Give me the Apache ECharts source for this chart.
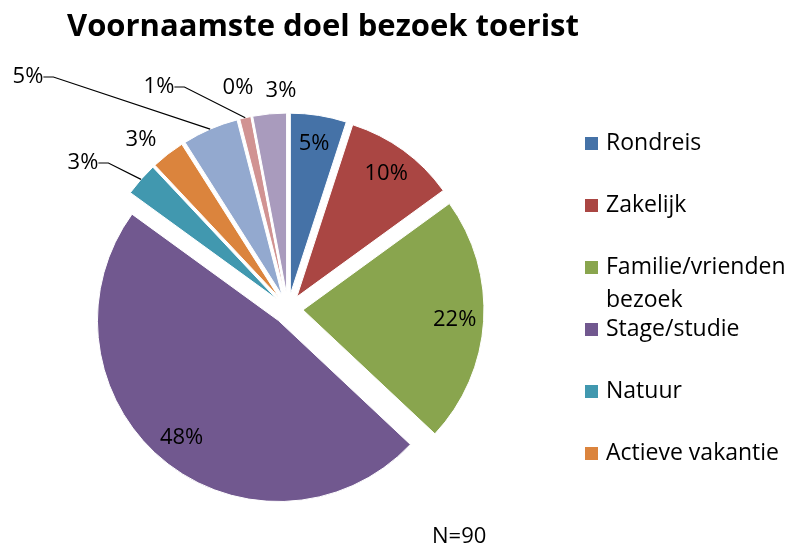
<!DOCTYPE html>
<html>
<head>
<meta charset="utf-8">
<script src="https://cdn.jsdelivr.net/npm/echarts@6/dist/echarts.min.js"></script>
<style>
  html, body { margin: 0; padding: 0; background: #fff; }
  #main { width: 790px; height: 546px; }
</style>
</head>
<body>
<div id="main"></div>
<script>
// data
const categories = ['Rondreis', 'Zakelijk', 'Familie/vrienden bezoek', 'Stage/studie', 'Natuur',
  'Actieve vakantie', 'Cultuur', 'Evenement', 'Winkelen', 'Anders'];
const percentages = [5, 10, 22, 48, 3, 3, 5, 1, 0, 3];
const legendNames = categories.slice(0, 6);
const colors = ['#4572A7', '#AA4643', '#89A54E', '#71588F', '#4198AF', '#DB843D',
  '#93A9CF', '#D19392', '#B9CD96', '#A99BBD'];

const font = '"Open Sans", sans-serif';
const insideCount = 4;           // big slices get their label inside
const withLine = [4, 6, 7];      // outside labels that get a leader line

// where Excel put the outside labels
const outsideLabelPos = {
  4: [83, 163], 5: [141, 140], 6: [28, 77], 7: [159, 87], 8: [238, 88], 9: [281, 91]
};

// the visible (exploded) slices
const pieData = categories.map((name, i) => ({
  name: name,
  value: percentages[i],
  selected: true
}));

// transparent, not exploded copy that carries the labels
const labelData = categories.map((name, i) => ({
  name: name,
  value: percentages[i],
  label: { position: i < insideCount ? 'inside' : 'outside' },
  labelLine: { show: withLine.indexOf(i) >= 0 }
}));

const chart = echarts.init(document.getElementById('main'));
const option = {
  animation: false,
  color: colors,
  title: [
    {
      text: 'Voornaamste doel bezoek toerist',
      left: 67, top: 12, padding: 0,
      textStyle: { fontFamily: font, fontSize: 31, fontWeight: 'bold', color: '#000' }
    },
    {
      text: 'N=90',
      left: 432, top: 526, padding: 0,
      textStyle: { fontFamily: font, fontSize: 22, fontWeight: 'normal', color: '#000' }
    }
  ],
  legend: {
    orient: 'vertical',
    left: 583,
    top: 94,
    padding: 0,
    itemWidth: 15,
    itemHeight: 15,
    itemGap: -37,
    icon: 'rect',
    selectedMode: false,
    // every entry is three lines high with the name on the middle line,
    // so a wrapped name keeps its first line next to the colour box
    formatter: function (name) {
      const parts = name.split('/vrienden ');
      return parts.length > 1
        ? ' \n' + parts[0] + '/vrienden\n' + parts[1]
        : ' \n' + name + '\n ';
    },
    textStyle: { fontFamily: font, fontSize: 23, color: '#000', lineHeight: 33, padding: [0, 0, 0, 2] },
    data: legendNames
  },
  series: [
    {
      type: 'pie',
      center: [288, 309],
      radius: 181,
      startAngle: 90,
      clockwise: true,
      selectedMode: 'multiple',
      selectedOffset: 15,
      silent: true,
      itemStyle: { borderColor: '#fff', borderWidth: 1 },
      label: { show: false },
      labelLine: { show: false },
      data: pieData
    },
    {
      type: 'pie',
      center: [288, 309],
      radius: [132, 196],
      startAngle: 90,
      clockwise: true,
      silent: true,
      avoidLabelOverlap: false,
      z: 3,
      itemStyle: { color: 'rgba(0,0,0,0)', borderWidth: 0 },
      label: {
        formatter: '{c}%',
        fontFamily: font, fontSize: 22, color: '#000'
      },
      labelLine: { length: 10, length2: 10, lineStyle: { color: '#000', width: 1.2 } },
      labelLayout: function (params) {
        const p = outsideLabelPos[params.dataIndex];
        if (!p) return {};
        return { x: p[0], y: p[1], align: 'center', verticalAlign: 'middle' };
      },
      data: labelData
    }
  ]
};
chart.setOption(option);
window.addEventListener('resize', chart.resize);
</script>
</body>
</html>
